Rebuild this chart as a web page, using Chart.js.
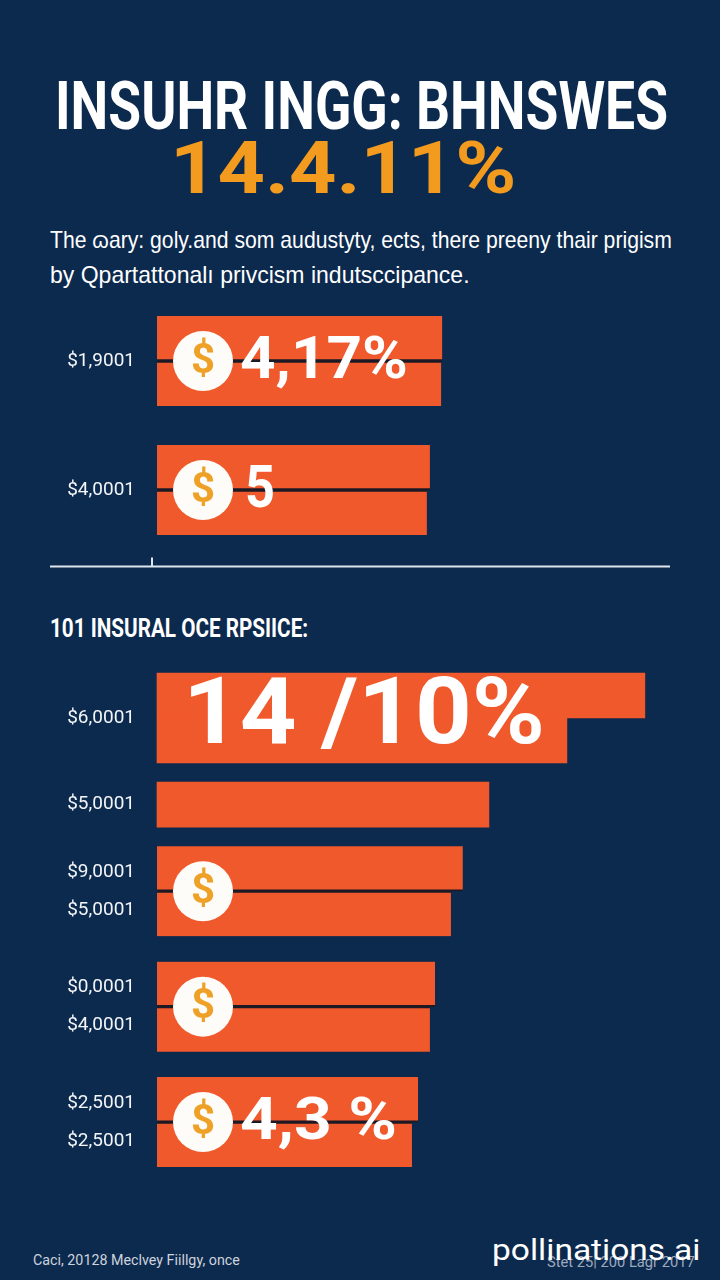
<!DOCTYPE html>
<html>
<head>
<meta charset="utf-8">
<title>Insuhr Ingg</title>
<script src="https://cdn.jsdelivr.net/npm/chart.js@4.4.1/dist/chart.umd.min.js"></script>
<style>
  html, body { margin: 0; padding: 0; }
  body {
    width: 720px; height: 1280px; overflow: hidden; position: relative;
    background: #0c2a4e; color: #fff;
    font-family: Roboto, "Liberation Sans", sans-serif;
  }
  .txt { position: absolute; white-space: nowrap; line-height: 1; transform-origin: 0 0; }
  canvas { position: absolute; left: 0; }
</style>
</head>
<body>

<div class="txt fit" data-w="613" style="left:55px;top:73px;font-size:67px;font-weight:700;">INSUHR INGG: BHNSWES</div>
<div class="txt fit" data-w="347" style="left:170px;top:133px;font-size:72px;font-weight:700;color:#f39b1f;">14.4.11%</div>
<div class="txt fit" data-w="622" style="left:50px;top:228px;font-size:24px;font-family:'Liberation Sans',Arial,sans-serif;">The ɷary: goly.and som audustyty, ects, there preeny thair prigism</div>
<div class="txt fit" data-w="420" style="left:50px;top:263px;font-size:24px;font-family:'Liberation Sans',Arial,sans-serif;">by Qpartattonalı privcism indutsccipance.</div>

<canvas id="topChart" width="720" height="300" style="top:290px"></canvas>

<div class="txt fit" data-w="258" style="left:50px;top:616px;font-size:25px;font-weight:700;">101 INSURAL OCE RPSIICE:</div>

<canvas id="bottomChart" width="720" height="560" style="top:640px"></canvas>

<div class="txt fit" data-w="207" style="left:33px;top:1253px;font-size:14px;color:#cdd4de;">Caci, 20128 Meclvey Fiillgy, once</div>
<div class="txt fit" data-w="148" style="left:547px;top:1255px;font-size:14px;color:rgba(205,214,224,0.75);">Stet 25| 200 Lagr 2017</div>
<div class="txt fit" data-w="208" style="left:492px;top:1236px;font-size:29px;color:#fff;">pollinations.ai</div>

<script>
// ---- data ----
var topCategories = ['$1,9001', '$4,0001'];
var topUpper = [55.6, 53.2];
var topLower = [55.4, 52.6];
var topBadges = ['4,17%', '5'];
var topCoins = [true, true];

var bottomCategories = ['$6,0001', '$5,0001', ['$9,0001', '$5,0001'], ['$0,0001', '$4,0001'], ['$2,5001', '$2,5001']];
var bottomUpper = [95.1, 64.7, 59.6, 54.2, 50.9];
var bottomLower = [79.9, null, 57.3, 53.2, 49.7];
var bottomBadges = ['14 /10%', '', '', '', '4,3 %'];
var bottomCoins = [false, false, true, true, true];

// ---- layout / style ----
var BAR = '#f0592c';
var DIVIDER = '#1d1a26';
var topSlots = [0, 3], topRows = 4;
var bottomSlots = [0, 3, 6, 10, 14], bottomRows = 15;
var topDividers = [true, true];
var bottomDividers = [false, false, true, true, true];
var topBadgeFont = [60, 60], topBadgeX = [83, 88], topBadgeW = [168, 30];
var bottomBadgeFont = [92, 0, 0, 0, 60], bottomBadgeX = [26, 0, 0, 0, 83], bottomBadgeW = [362, 0, 0, 0, 157];

// squeeze html text into the width it has in the picture
function fitText() {
  var els = document.querySelectorAll('.fit');
  for (var i = 0; i < els.length; i++) {
    var w = +els[i].getAttribute('data-w');
    els[i].style.transform = 'scaleX(' + (w / els[i].offsetWidth) + ')';
  }
}

// put values on their rows, blank rows in between
function spread(values, slots, rows, blank) {
  var out = [];
  for (var i = 0; i < rows; i++) out.push(blank);
  for (var j = 0; j < values.length; j++) out[slots[j]] = values[j];
  return out;
}

function divider(flags, slots, side) {
  return function (ctx) {
    var k = slots.indexOf(ctx.dataIndex);
    var w = { top: 0, right: 0, bottom: 0, left: 0 };
    if (k >= 0 && flags[k]) w[side] = 2;
    return w;
  };
}

var badgePlugin = {
  id: 'badges',
  afterDatasetsDraw: function (chart, args, o) {
    var ctx = chart.ctx, yS = chart.scales.y, left = chart.chartArea.left;
    for (var i = 0; i < o.slots.length; i++) {
      var y = yS.getPixelForTick(o.slots[i]);
      ctx.save();
      if (o.coins[i]) {
        ctx.beginPath();
        ctx.arc(left + 46, y, 30, 0, Math.PI * 2);
        ctx.fillStyle = '#fdfcf8';
        ctx.fill();
        ctx.fillStyle = '#eea126';
        ctx.font = 'bold 42px Roboto';
        ctx.textAlign = 'center';
        ctx.textBaseline = 'middle';
        ctx.fillText('$', left + 46, y + 1);
      }
      if (o.badges[i]) {
        ctx.fillStyle = '#ffffff';
        ctx.font = 'bold ' + o.sizes[i] + 'px Roboto';
        ctx.textAlign = 'left';
        ctx.textBaseline = 'middle';
        var x = left + o.xs[i];
        var k = o.widths[i] / ctx.measureText(o.badges[i]).width;
        ctx.translate(x, y + 2);
        ctx.scale(k, 1);
        ctx.fillText(o.badges[i], 0, 0);
      }
      ctx.restore();
    }
  }
};

var baselinePlugin = {
  id: 'baseline',
  afterDraw: function (chart, args, o) {
    if (!o.show) return;
    var ctx = chart.ctx, a = chart.chartArea, y = a.bottom + 55;
    ctx.save();
    ctx.strokeStyle = '#dfe5ec';
    ctx.lineWidth = 2;
    ctx.beginPath();
    ctx.moveTo(50, y);
    ctx.lineTo(a.right, y);
    ctx.moveTo(a.left - 5, y - 9);
    ctx.lineTo(a.left - 5, y);
    ctx.stroke();
    ctx.restore();
  }
};

function makeChart(id, cats, upper, lower, slots, rows, dividers, pad, extra) {
  return new Chart(document.getElementById(id), {
    type: 'bar',
    data: {
      labels: spread(cats, slots, rows, ''),
      datasets: [{
        data: spread(upper, slots, rows, null),
        backgroundColor: BAR,
        borderColor: DIVIDER,
        borderSkipped: false,
        borderWidth: divider(dividers, slots, 'bottom'),
        barThickness: 45,
        skipNull: true,
        clip: false
      }, {
        data: spread(lower, slots, rows, null),
        backgroundColor: BAR,
        borderColor: DIVIDER,
        borderSkipped: false,
        borderWidth: divider(dividers, slots, 'top'),
        barThickness: 45,
        skipNull: true,
        clip: false
      }]
    },
    options: {
      indexAxis: 'y',
      responsive: false,
      animation: false,
      layout: { padding: { left: 0, right: 50, top: pad[0], bottom: pad[1] } },
      plugins: {
        legend: { display: false },
        tooltip: { enabled: false },
        badges: extra.badges,
        baseline: { show: extra.baseline }
      },
      scales: {
        x: { display: false, min: 0, max: 100 },
        y: {
          grid: { display: false, drawTicks: false },
          border: { display: false },
          ticks: {
            color: '#f3f5f8',
            font: { family: 'Roboto', size: 19, lineHeight: 2.0 },
            padding: 22,
            autoSkip: false
          },
          afterFit: function (s) { s.width = 157; }
        }
      }
    },
    plugins: [badgePlugin, baselinePlugin]
  });
}

fitText();

makeChart('topChart', topCategories, topUpper, topLower, topSlots, topRows, topDividers,
  [49.5, 78.5],
  { baseline: true, badges: { slots: topSlots, coins: topCoins, badges: topBadges, sizes: topBadgeFont, xs: topBadgeX, widths: topBadgeW } });

makeChart('bottomChart', bottomCategories, bottomUpper, bottomLower, bottomSlots, bottomRows, bottomDividers,
  [63.6, 63.5],
  { baseline: false, badges: { slots: bottomSlots, coins: bottomCoins, badges: bottomBadges, sizes: bottomBadgeFont, xs: bottomBadgeX, widths: bottomBadgeW } });
</script>
</body>
</html>
